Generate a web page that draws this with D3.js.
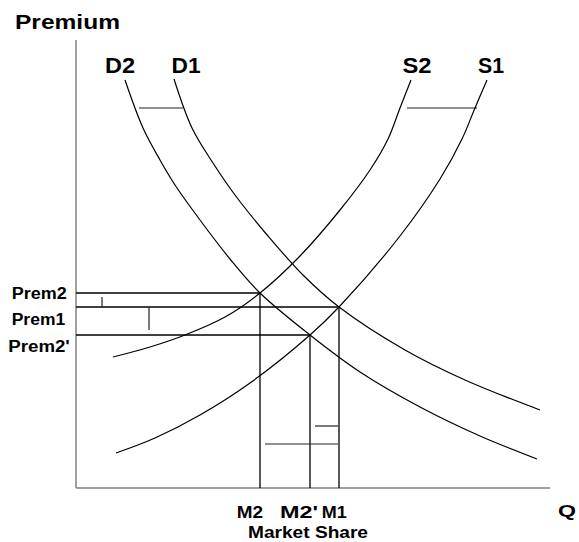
<!DOCTYPE html>
<html><head><meta charset="utf-8">
<script src="https://cdn.jsdelivr.net/npm/d3@7"></script>
<style>
body{margin:0;background:#fff}
svg{display:block}
text{font-family:"Liberation Sans",Arial,sans-serif;font-weight:bold;fill:#000}
</style>
</head><body>
<svg id="c" width="579" height="542"></svg>
<script>
// ---- data (market share Q, premium P) ----
const curveNames = ["D2", "D1", "S2", "S1"];
const D2 = [[49,408],[67,360],[84,328],[99,303],[124,268],[154,229],[184,195],[234,153],[284,116],[344,81],[404,52],[461,29]];
const D1 = [[98,409],[116,360],[137,325],[159,293],[192,252],[227,213],[263,181],[329,138],[389,108],[464,78]];
const S2 = [[37,131],[74,141],[109,153],[149,171],[184,195],[224,232],[264,278],[294,318],[312,349],[324,380],[335,408]];
const S1 = [[40,35],[79,50],[124,73],[174,105],[234,153],[263,181],[324,252],[364,309],[386,349],[399,380],[411,408]];

// price axis labels and their premium values
const priceLabels = ["Prem2", "Prem1", "Prem2'"];
const priceValues = [195, 181, 153];
// share axis labels and their market-share values
const shareLabels = ["M2", "M2'", "M1"];
const shareValues = [184, 234, 263];
// equilibrium points (share, premium): D2∩S2, D1∩S1, D2∩S1
const eqShares = [184, 263, 234];
const eqPremiums = [195, 181, 153];

// shift indicator segments: [q1, p1, q2, p2]
const shiftSegments = [
  [63, 380, 107, 380],
  [331, 380, 401, 380],
  [239, 62, 262, 62],
  [189, 44, 262, 44],
  [26, 191, 26, 181],
  [73, 181, 73, 158]
];

// ---- layout ----
const svg = d3.select("#c");
const x = d3.scaleLinear().domain([0, 474]).range([76, 550]);
const y = d3.scaleLinear().domain([0, 448]).range([488, 40]);

// axes
svg.append("line").attr("x1", x(0)).attr("x2", x(0)).attr("y1", y(0)).attr("y2", y(448))
  .attr("stroke", "#808080").attr("stroke-width", 1.5);
svg.append("line").attr("x1", x(0)).attr("x2", x(474)).attr("y1", y(0)).attr("y2", y(0))
  .attr("stroke", "#808080").attr("stroke-width", 1.5);

// reference lines at equilibria
eqShares.forEach((q, i) => {
  const p = eqPremiums[i];
  svg.append("line").attr("x1", x(0)).attr("x2", x(q)).attr("y1", y(p)).attr("y2", y(p))
    .attr("stroke", "#000").attr("stroke-width", 1.3);
  svg.append("line").attr("x1", x(q)).attr("x2", x(q)).attr("y1", y(p)).attr("y2", y(0))
    .attr("stroke", "#000").attr("stroke-width", 1.3);
});

// shift segments
shiftSegments.forEach(s => {
  svg.append("line").attr("x1", x(s[0])).attr("y1", y(s[1])).attr("x2", x(s[2])).attr("y2", y(s[3]))
    .attr("stroke", "#222").attr("stroke-width", 1.2);
});

// curves
const line = d3.line().x(d => x(d[0])).y(d => y(d[1])).curve(d3.curveCatmullRom.alpha(0.5));
const curves = {D2, D1, S2, S1};
curveNames.forEach(n => {
  svg.append("path").attr("d", line(curves[n])).attr("fill", "none")
    .attr("stroke", "#000").attr("stroke-width", 1.2);
});

// curve labels
const curveLabelPos = {D2: [120, 72.7, 30], D1: [186, 72.7, 29], S2: [417, 72.7, 29], S1: [491, 72.7, 26]};
curveNames.forEach(n => {
  const [cx, cy, w] = curveLabelPos[n];
  svg.append("text").attr("x", cx - w / 2).attr("y", cy).attr("font-size", 22)
    .attr("textLength", w).attr("lengthAdjust", "spacingAndGlyphs").text(n);
});

// axis titles
svg.append("text").attr("x", 15).attr("y", 29).attr("font-size", 21)
  .attr("textLength", 105).attr("lengthAdjust", "spacingAndGlyphs").text("Premium");
svg.append("text").attr("x", 558).attr("y", 517).attr("font-size", 16)
  .attr("textLength", 18).attr("lengthAdjust", "spacingAndGlyphs").text("Q");
svg.append("text").attr("x", 248).attr("y", 538.3).attr("font-size", 16)
  .attr("textLength", 120).attr("lengthAdjust", "spacingAndGlyphs").text("Market Share");

// price tick labels
const priceLabelLayout = [[11.7, 298.5, 55], [11.7, 325, 53.5], [8.3, 351.5, 61.5]];
priceLabels.forEach((t, i) => {
  const [lx, ly, w] = priceLabelLayout[i];
  svg.append("text").attr("x", lx).attr("y", ly).attr("font-size", 16)
    .attr("textLength", w).attr("lengthAdjust", "spacingAndGlyphs").text(t);
});

// share tick labels
const shareLabelLayout = [[236.7, 26.3], [280, 38], [321.7, 25]];
shareLabels.forEach((t, i) => {
  const [lx, w] = shareLabelLayout[i];
  svg.append("text").attr("x", lx).attr("y", 518.3).attr("font-size", 16)
    .attr("textLength", w).attr("lengthAdjust", "spacingAndGlyphs").text(t);
});
</script>
</body></html>
